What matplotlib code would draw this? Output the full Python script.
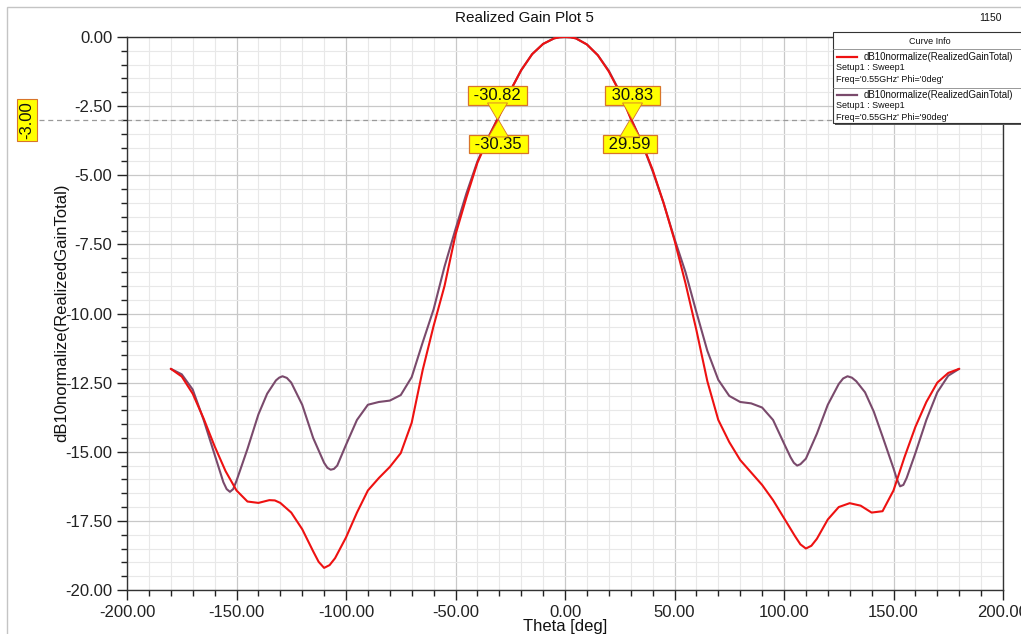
import matplotlib
matplotlib.use("Agg")
import matplotlib.pyplot as plt
from matplotlib.patches import Rectangle, Polygon
from matplotlib.ticker import MultipleLocator, FormatStrFormatter
import matplotlib.transforms as mtransforms

plt.rcParams['font.family'] = ['Liberation Sans', 'DejaVu Sans']

# ---------------- data ----------------
theta_phi0 = [-180, -175, -170, -165, -160, -155, -150, -145, -140, -137.5, -135, -132.5,
              -130, -125, -120, -115, -112.5, -110, -107.5, -105, -100, -95, -90, -85,
              -80, -75, -70, -65, -60, -55, -50, -45, -40, -35, -30, -25, -20, -15,
              -10, -5, -2.5, 0, 2.5, 5, 10, 15, 20, 25, 30, 35, 40, 45, 50, 55, 60, 65,
              70, 75, 80, 85, 90, 95, 100, 105, 107.5, 110, 112.5, 115, 120, 125, 130,
              135, 140, 145, 150, 155, 160, 165, 170, 175, 180]
gain_phi0 = [-12.00, -12.28, -12.90, -13.80, -14.80, -15.70, -16.40, -16.80, -16.85,
             -16.80, -16.75, -16.76, -16.85, -17.20, -17.80, -18.60, -18.98, -19.20,
             -19.10, -18.85, -18.10, -17.20, -16.40, -15.95, -15.55, -15.05, -13.95,
             -12.05, -10.45, -9.00, -7.15, -5.80, -4.55, -3.65, -2.85, -1.95, -1.20,
             -0.62, -0.25, -0.05, -0.01, 0.00, -0.01, -0.05, -0.27, -0.66, -1.25,
             -2.00, -2.95, -3.80, -4.80, -6.00, -7.35, -8.90, -10.60, -12.45, -13.85,
             -14.65, -15.30, -15.75, -16.20, -16.75, -17.40, -18.05, -18.35, -18.50,
             -18.40, -18.15, -17.45, -17.00, -16.86, -16.95, -17.20, -17.15, -16.40,
             -15.20, -14.10, -13.20, -12.50, -12.15, -12.00]

theta_phi90 = [-180, -175, -170, -165, -160, -156, -154.5, -153, -151.5, -150, -145,
               -140, -136, -132, -130.5, -129, -127, -125, -120, -115, -110, -108.5,
               -107, -105.5, -104, -100, -95, -90, -85, -80, -75, -70, -65, -60, -55,
               -50, -45, -40, -35, -30, -25, -20, -15, -10, -5, -2.5, 0, 2.5, 5, 10,
               15, 20, 25, 30, 35, 40, 45, 50, 55, 60, 65, 70, 75, 80, 85, 90, 95,
               100, 103, 104.5, 106, 107.5, 110, 115, 120, 125, 127, 129, 131, 133,
               137, 141, 145, 150, 151.5, 153, 154.5, 156, 160, 165, 170, 175, 180]
gain_phi90 = [-12.00, -12.20, -12.75, -13.85, -15.10, -16.10, -16.35, -16.45, -16.35,
              -16.05, -14.90, -13.65, -12.90, -12.42, -12.32, -12.27, -12.33, -12.50,
              -13.30, -14.50, -15.40, -15.58, -15.65, -15.62, -15.50, -14.75, -13.85,
              -13.30, -13.20, -13.15, -12.95, -12.30, -11.05, -9.85, -8.30, -6.95,
              -5.65, -4.50, -3.62, -2.83, -1.95, -1.20, -0.62, -0.25, -0.05, -0.01,
              0.00, -0.01, -0.05, -0.27, -0.66, -1.22, -1.98, -2.93, -3.80, -4.85,
              -6.00, -7.30, -8.50, -9.95, -11.35, -12.40, -12.98, -13.20, -13.25,
              -13.40, -13.85, -14.70, -15.20, -15.40, -15.50, -15.45, -15.25, -14.35,
              -13.30, -12.55, -12.35, -12.27, -12.32, -12.45, -12.85, -13.55, -14.45,
              -15.60, -15.98, -16.25, -16.20, -15.95, -15.05, -13.85, -12.85, -12.25,
              -12.00]

x_ticks = [-200, -150, -100, -50, 0, 50, 100, 150, 200]
y_ticks = [0.0, -2.5, -5.0, -7.5, -10.0, -12.5, -15.0, -17.5, -20.0]
ref_level = -3.0
marker_left = [-30.82, -30.35]
marker_right = [30.83, 29.59]

title = "Realized Gain Plot 5"
legend_name = "dB10normalize(RealizedGainTotal)"
legend_setup = "Setup1 : Sweep1"
legend_freq = ["Freq='0.55GHz' Phi='0deg'", "Freq='0.55GHz' Phi='90deg'"]

RED = "#ee1111"
PURPLE = "#7a4a6c"
YELLOW = "#ffff00"
BOXEDGE = "#d8742a"

# ---------------- figure ----------------
W, H = 1021, 634
fig = plt.figure(figsize=(W / 100, H / 100), dpi=100)
fig.patch.set_facecolor("white")

def fx(px):
    return px / W

def fy(py):
    return 1 - py / H

# outer frame
fig.add_artist(Rectangle((fx(7), fy(640)), fx(1030) - fx(7), fy(7) - fy(640),
                         transform=fig.transFigure, fill=False, edgecolor="#c4c4c4",
                         linewidth=1.0))

ax = fig.add_axes([fx(127), fy(590), fx(1003) - fx(127), fy(37) - fy(590)])
ax.set_xlim(-200, 200)
ax.set_ylim(-20, 0)

ax.xaxis.set_minor_locator(MultipleLocator(10))
ax.yaxis.set_minor_locator(MultipleLocator(0.5))
ax.set_xticks(x_ticks)
ax.set_yticks(y_ticks)
ax.xaxis.set_major_formatter(FormatStrFormatter("%.2f"))
ax.yaxis.set_major_formatter(FormatStrFormatter("%.2f"))
ax.grid(which="major", color="#c8c8c8", linewidth=0.9)
ax.grid(which="minor", color="#e8e8e8", linewidth=0.8)
ax.set_axisbelow(True)
ax.tick_params(which="major", direction="out", length=7, width=1, labelsize=12,
               colors="#222222")
ax.tick_params(which="minor", direction="out", length=4, width=1, colors="#222222")
for s in ax.spines.values():
    s.set_color("#333333")
    s.set_linewidth(1.0)

ax.plot(theta_phi0, gain_phi0, color=RED, linewidth=1.5, zorder=4,
        solid_joinstyle="round", solid_capstyle="round")
ax.plot(theta_phi90, gain_phi90, color=PURPLE, linewidth=1.5, zorder=3,
        solid_joinstyle="round", solid_capstyle="round")

# reference line at -3 dB extending to the left label
ref_trans = mtransforms.blended_transform_factory(ax.transAxes, ax.transData)
ax.plot([-0.101, 1.0], [ref_level, ref_level], transform=ref_trans, color="#9a9a9a",
        linestyle=(0, (4, 3)), linewidth=0.9, clip_on=False, zorder=2)
ax.text(-0.114, ref_level, "%.2f" % ref_level, transform=ref_trans, rotation=90,
        ha="center", va="center", fontsize=12, color="#111111",
        bbox=dict(boxstyle="square,pad=0.15", facecolor=YELLOW, edgecolor=BOXEDGE,
                  linewidth=0.8), zorder=6, clip_on=False)

# markers
def draw_marker(theta, level, up):
    sign = 1 if up else -1
    off = mtransforms.ScaledTranslation(theta, level, ax.transData)
    tr = fig.dpi_scale_trans + off
    tri = Polygon([(0, 0), (-0.10, sign * 0.17), (0.10, sign * 0.17)], closed=True,
                  transform=tr, facecolor=YELLOW, edgecolor=BOXEDGE, linewidth=0.6,
                  zorder=6, clip_on=False)
    fig.add_artist(tri)
    ax.annotate(" %.2f " % theta, xy=(theta, level), xytext=(0, sign * 17.5),
                textcoords="offset points", ha="center", va="center", fontsize=12,
                color="#111111", zorder=7,
                bbox=dict(boxstyle="square,pad=0.1", facecolor=YELLOW,
                          edgecolor=BOXEDGE, linewidth=0.9))

draw_marker(marker_left[0], ref_level, True)
draw_marker(marker_left[1], ref_level, False)
draw_marker(marker_right[0], ref_level, True)
draw_marker(marker_right[1], ref_level, False)

# titles and labels
fig.text(fx(524), fy(18), title, ha="center", va="center", fontsize=11, color="#111111")
fig.text(fx(990), fy(18), "1150", ha="center", va="center", fontsize=7.5, color="#111111")
fig.text(fx(565), fy(626), "Theta [deg]", ha="center", va="center", fontsize=12,
         color="#111111")
fig.text(fx(62), fy(313), "dB10normalize(RealizedGainTotal)", ha="center", va="center",
         rotation=90, fontsize=12, color="#111111")

# legend box ("Curve Info")
lx0, ly0, lx1, ly1 = 833, 32, 1030, 123
fig.add_artist(Rectangle((fx(lx0 + 2), fy(ly1 + 2)), fx(lx1) - fx(lx0), fy(ly0) - fy(ly1),
                         transform=fig.transFigure, facecolor="#555555", edgecolor="none",
                         zorder=8))
fig.add_artist(Rectangle((fx(lx0), fy(ly1)), fx(lx1) - fx(lx0), fy(ly0) - fy(ly1),
                         transform=fig.transFigure, facecolor="white", edgecolor="#333333",
                         linewidth=0.8, zorder=9))
fig.text(fx(930), fy(41), "Curve Info", ha="center", va="center", fontsize=6.5,
         color="#111111", zorder=10)
for ysep in (49, 88):
    fig.add_artist(plt.Line2D([fx(lx0), fx(lx1)], [fy(ysep), fy(ysep)],
                              transform=fig.transFigure, color="#888888", linewidth=0.6,
                              zorder=10))
for base, col, freq in ((57, RED, legend_freq[0]), (95, PURPLE, legend_freq[1])):
    fig.add_artist(plt.Line2D([fx(837), fx(857)], [fy(base), fy(base)],
                              transform=fig.transFigure, color=col, linewidth=1.6,
                              zorder=10))
    fig.text(fx(864), fy(base), legend_name, ha="left", va="center", fontsize=7,
             color="#111111", zorder=10)
    fig.text(fx(836), fy(base + 11), legend_setup, ha="left", va="center", fontsize=6.5,
             color="#111111", zorder=10)
    fig.text(fx(836), fy(base + 22), freq, ha="left", va="center", fontsize=6.5,
             color="#111111", zorder=10)

fig.savefig("out.png", dpi=100)
